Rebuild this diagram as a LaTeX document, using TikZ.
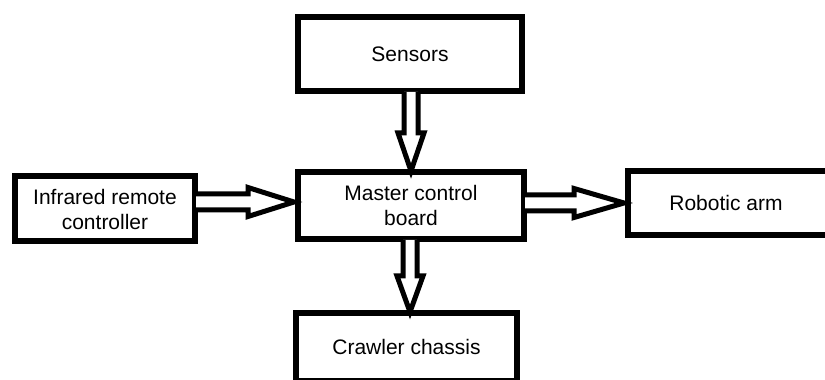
\documentclass[tikz,border=0pt]{standalone}
\usepackage{fontspec}
\setmainfont{Liberation Sans}
\usetikzlibrary{calc}
\tikzset{
  box/.style={draw=black, line width=6pt, fill=white, inner sep=0pt, align=center,
    font=\fontsize{21}{25}\selectfont},
  hollow/.style={draw=black, line width=5pt, fill=white, line join=miter, miter limit=10}
}
\begin{document}
\begin{tikzpicture}[x=1pt,y=1pt]
\clip (0,0) rectangle (825,380);
\fill[white] (0,0) rectangle (825,380);
\node[box, minimum width=224pt, minimum height=74pt] (s) at (410,326) {Sensors};
\node[box, minimum width=226pt, minimum height=67pt] (m) at (411,174.5) {Master control\\board};
\node[box, minimum width=180pt, minimum height=65pt] (i) at (105,171) {Infrared remote\\controller};
\node[box, minimum width=234pt, minimum height=64pt] (r) at (745,177) {\hspace*{-38pt}Robotic arm};
\node[box, minimum width=221pt, minimum height=68pt] (c) at (406.5,33) {Crawler chassis};
% Sensors -> Master
\coordinate (t1) at ($(m.north)+(0,-2)$);
\coordinate (b1) at (s.south -| t1);
\draw[hollow] ($(b1)+(-7,2)$) -- ($(t1)+(-7,38)$) -- ($(t1)+(-13,38)$) -- (t1)
  -- ($(t1)+(13,38)$) -- ($(t1)+(7,38)$) -- ($(b1)+(7,2)$);
% Master -> Crawler
\coordinate (t2) at ($(c.north)+(3.5,-2)$);
\coordinate (b2) at (m.south -| t2);
\draw[hollow] ($(b2)+(-7,2)$) -- ($(t2)+(-7,36)$) -- ($(t2)+(-13,36)$) -- (t2)
  -- ($(t2)+(13,36)$) -- ($(t2)+(7,36)$) -- ($(b2)+(7,2)$);
% Infrared -> Master
\coordinate (t3) at ($(m.west)+(-1,3.5)$);
\coordinate (b3) at (i.east |- t3);
\draw[hollow] ($(b3)+(-2,8)$) -- ($(t3)+(-46,8)$) -- ($(t3)+(-46,14.5)$) -- (t3)
  -- ($(t3)+(-46,-14.5)$) -- ($(t3)+(-46,-8)$) -- ($(b3)+(-2,-8)$);
% Master -> Robotic arm
\coordinate (t4) at ($(r.west)+(-1,0)$);
\coordinate (b4) at (m.east |- t4);
\draw[hollow] ($(b4)+(-2,8)$) -- ($(t4)+(-50,8)$) -- ($(t4)+(-50,14.5)$) -- (t4)
  -- ($(t4)+(-50,-14.5)$) -- ($(t4)+(-50,-8)$) -- ($(b4)+(-2,-8)$);
\end{tikzpicture}
\end{document}
